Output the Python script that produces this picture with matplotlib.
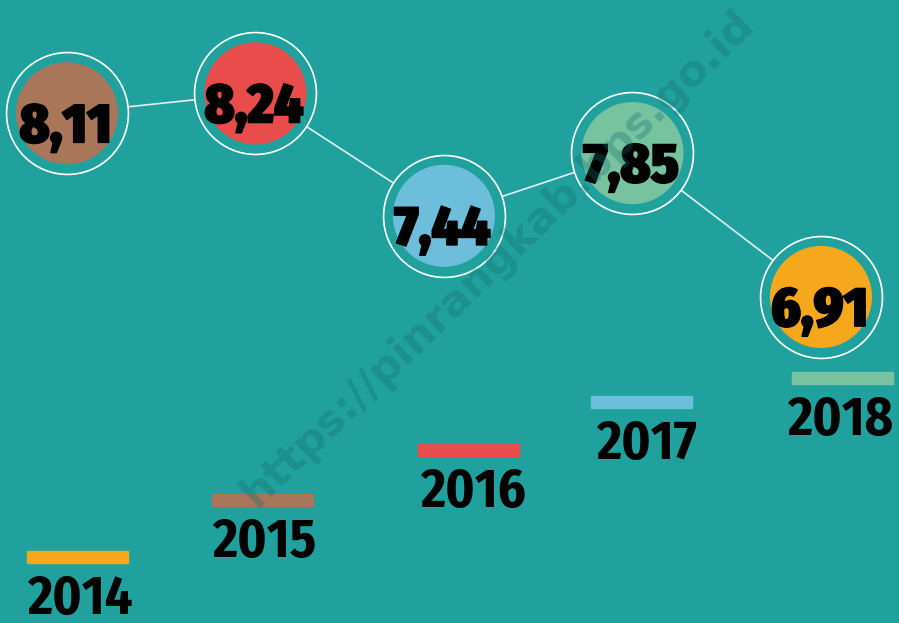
import matplotlib
matplotlib.use("Agg")
from matplotlib import pyplot as plt
import matplotlib.patheffects as pe

# data
values = [8.11, 8.24, 7.44, 7.85, 6.91]
value_labels = ["8,11", "8,24", "7,44", "7,85", "6,91"]
circle_colors = ["#a9765a", "#e84c4b", "#6cbedb", "#77c3a0", "#f5a81c"]
years = ["2014", "2015", "2016", "2017", "2018"]
year_colors = ["#f5a81c", "#a9765a", "#e84c4b", "#6cbedb", "#77c3a0"]

bg = "#21a19e"
W, H = 899, 623
num_font = ["Fira Sans Condensed", "DejaVu Sans"]

fig = plt.figure(figsize=(W / 100, H / 100), dpi=100)
fig.patch.set_facecolor(bg)
ax = fig.add_axes([0, 0, 1, 1])
ax.set_facecolor(bg)
ax.set_xlim(-0.355, 4.414)
ax.set_ylim(4.78, 8.85)
ax.axis("off")

xs = list(range(len(values)))

# connecting line
ax.plot(xs, values, color="white", lw=1.2, alpha=0.85, zorder=1)

# outer ring (hides line inside), then inner disc
ax.scatter(xs, values, s=7700, facecolor=bg, edgecolor="white", linewidth=1.2, zorder=2)
ax.scatter(xs, values, s=5400, c=circle_colors, edgecolor="none", zorder=3)

for x, v, lab in zip(xs, values, value_labels):
    ax.annotate(lab, (x, v), xytext=(-1, -21), textcoords="offset points",
                ha="center", va="baseline", fontsize=40, fontweight=900,
                family=num_font, color="black", zorder=4,
                path_effects=[pe.withStroke(linewidth=1.0, foreground="black")])

# year labels with coloured bars (staircase layout, pixel positions)
bar_px = [(27, 557), (212, 500), (418, 450), (591, 402), (792, 378)]
text_dx = [0, 0, 2, 5, -5]
for (bx, by), dx, yr, col in zip(bar_px, text_dx, years, year_colors):
    fig.patches.append(plt.Rectangle((bx / W, 1 - (by + 6) / H), 101 / W, 12 / H,
                                     transform=fig.transFigure, color=col, zorder=2))
    fig.text((bx + dx) / W, 1 - (by + 16) / H, yr, ha="left", va="top", fontsize=39,
             fontweight=700, family=num_font, color="black", zorder=4)

# watermark
fig.text(0.553, 0.585, "https://pinrangkab.bps.go.id", rotation=44, ha="center", va="center",
         fontsize=31, fontweight="bold", color="#136f6c", alpha=0.33, zorder=5)

fig.savefig("out.png", dpi=100, facecolor=bg)
